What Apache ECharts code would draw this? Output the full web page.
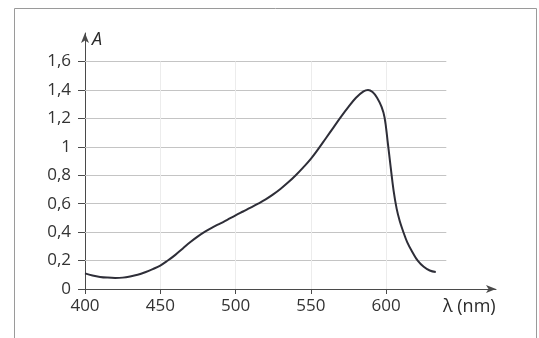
<!DOCTYPE html>
<html>
<head>
<meta charset="utf-8">
<script src="https://cdn.jsdelivr.net/npm/echarts@6/dist/echarts.min.js"></script>
<style>
  html, body { margin: 0; padding: 0; background: #fff; }
  #chart { width: 539px; height: 338px; }
</style>
</head>
<body>
<div id="chart"></div>
<script>
// wavelength (nm) and absorbance
const lambda = [400, 405, 410, 415, 420, 425, 430, 435, 440, 445, 450, 455, 460, 465, 470, 475, 480, 485, 490, 495,
  500, 505, 510, 515, 520, 525, 530, 535, 540, 545, 550, 555, 560, 565, 570, 575, 580, 585, 588, 591,
  594, 597, 599, 601, 603, 605, 607, 609, 611, 614, 618, 621, 625, 629, 633]
const absorb = [0.11, 0.095, 0.085, 0.08, 0.078, 0.08, 0.088, 0.10, 0.118, 0.14, 0.165, 0.20, 0.24, 0.285, 0.33, 0.37, 0.405, 0.435, 0.462, 0.49,
  0.518, 0.545, 0.572, 0.60, 0.63, 0.665, 0.705, 0.75, 0.80, 0.855, 0.915, 0.985, 1.06, 1.135, 1.21, 1.28, 1.345, 1.39, 1.40, 1.385,
  1.345, 1.28, 1.205, 1.04, 0.86, 0.69, 0.565, 0.48, 0.415, 0.33, 0.25, 0.20, 0.156, 0.13, 0.12]

const xTicks = [400, 450, 500, 550, 600]
const yTicks = [0, 0.2, 0.4, 0.6, 0.8, 1, 1.2, 1.4, 1.6]
const gridLevels = [0.2, 0.4, 0.6, 0.8, 1, 1.2, 1.4, 1.6]
const vGridLevels = [450, 500, 550, 600]

const chart = echarts.init(document.getElementById("chart"))

const font = "'Open Sans', 'Noto Sans', sans-serif"

chart.setOption({
  animation: false,
  backgroundColor: "#fff",
  grid: { left: 85, right: 43, top: 33, bottom: 49 },
  xAxis: {
    type: "value",
    min: 400,
    max: 673,
    interval: 50,
    axisLine: {
      show: true,
      symbol: ["none", "arrow"],
      symbolSize: [6, 10],
      lineStyle: { color: "#4a4a4a", width: 1 },
    },
    axisTick: { show: true, customValues: xTicks, length: 5, lineStyle: { color: "#4a4a4a" } },
    axisLabel: {
      customValues: xTicks,
      margin: 9,
      color: "#333",
      fontFamily: font,
      fontSize: 17,
    },
    splitLine: { show: false },
  },
  yAxis: {
    type: "value",
    min: 0,
    max: 1.8,
    interval: 0.2,
    axisLine: {
      show: true,
      symbol: ["none", "arrow"],
      symbolSize: [6, 10],
      lineStyle: { color: "#4a4a4a", width: 1 },
    },
    axisTick: { show: true, customValues: yTicks, length: 7, lineStyle: { color: "#4a4a4a" } },
    axisLabel: {
      customValues: yTicks,
      margin: 14,
      color: "#333",
      fontFamily: font,
      fontSize: 17,
      formatter: (v) => String(+v.toFixed(1)).replace(".", ","),
    },
    splitLine: { show: false },
  },
  graphic: [
    {
      type: "rect",
      shape: { x: 14.5, y: 8.5, width: 522, height: 345 },
      style: { fill: "none", stroke: "#9a9a9a", lineWidth: 1 },
      z: -1,
    },
    {
      type: "text",
      left: 92,
      top: 31,
      style: { text: "A", font: "italic 18px " + font, fill: "#2a2a2a" },
    },
    {
      type: "text",
      left: 443,
      top: 298,
      style: { text: "λ (nm)", font: "18px " + font, fill: "#2a2a2a" },
    },
  ],
  series: [
    {
      type: "line",
      data: [],
      silent: true,
      markLine: {
        silent: true,
        symbol: "none",
        label: { show: false },
        lineStyle: { color: "#c4c4c4", width: 1, type: "solid" },
        data: gridLevels.map((v) => [{ coord: [400, v] }, { coord: [640, v] }]),
      },
    },
    {
      type: "line",
      data: [],
      silent: true,
      markLine: {
        silent: true,
        symbol: "none",
        label: { show: false },
        lineStyle: { color: "#ececec", width: 1, type: "solid" },
        data: vGridLevels.map((v) => [{ coord: [v, 0] }, { coord: [v, 1.6] }]),
      },
    },
    {
      name: "A",
      type: "line",
      data: lambda.map((x, i) => [x, absorb[i]]),
      smooth: 0.4,
      symbol: "none",
      lineStyle: { color: "#2e2e38", width: 2 },
      z: 5,
    },
  ],
})
</script>
</body>
</html>
